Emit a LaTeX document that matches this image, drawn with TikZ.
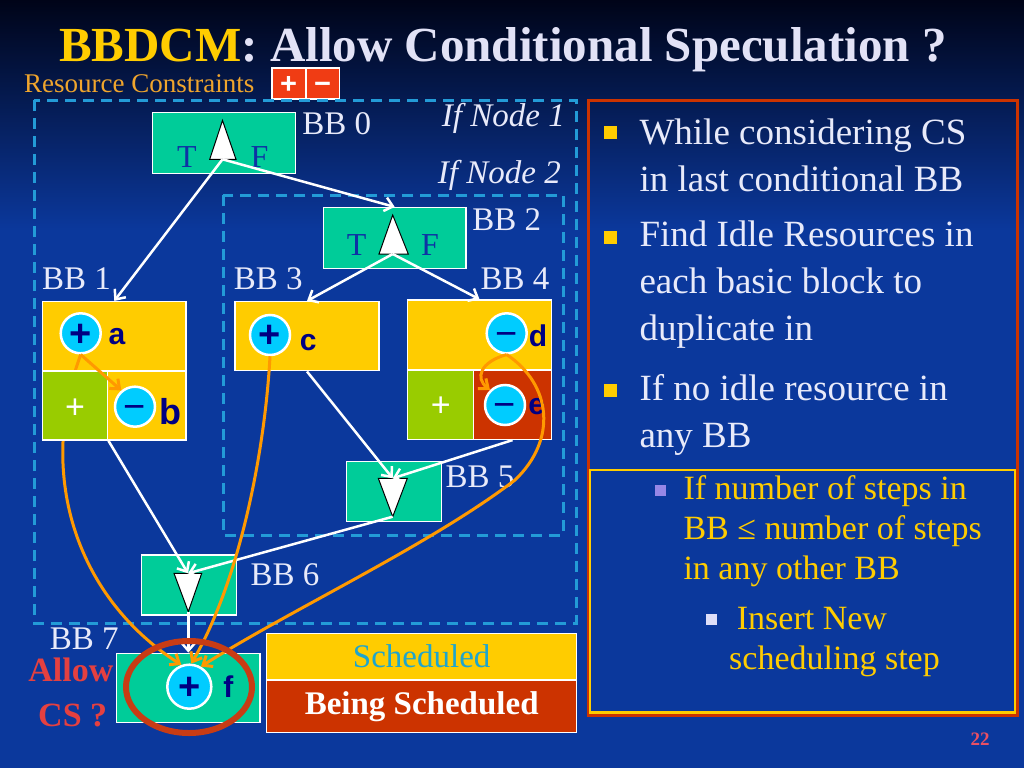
\documentclass[tikz,border=0pt]{standalone}
\usepackage{fontspec}
\setmainfont{Liberation Serif}
\setsansfont{Liberation Sans}
\usetikzlibrary{arrows.meta,shapes.geometric}

\definecolor{slidetop}{RGB}{0,4,24}
\definecolor{slidebody}{RGB}{11,56,156}
\definecolor{titleyellow}{RGB}{255,204,0}
\definecolor{titlelav}{RGB}{226,226,246}
\definecolor{rcorange}{RGB}{240,165,45}
\definecolor{rcred}{RGB}{240,60,20}
\definecolor{dashblue}{RGB}{35,155,215}
\definecolor{bbgreen}{RGB}{0,204,153}
\definecolor{schedyellow}{RGB}{255,204,0}
\definecolor{idlegreen}{RGB}{153,204,0}
\definecolor{busyred}{RGB}{204,51,0}
\definecolor{opcyan}{RGB}{0,204,255}
\definecolor{labnavy}{RGB}{0,0,130}
\definecolor{tfblue}{RGB}{14,50,165}
\definecolor{duporange}{RGB}{255,153,0}
\definecolor{txtwhite}{RGB}{232,234,250}
\definecolor{allowred}{RGB}{228,64,64}
\definecolor{schedcyan}{RGB}{30,165,205}
\definecolor{ringred}{RGB}{200,60,20}
\definecolor{sublav}{RGB}{150,135,230}
\definecolor{subsublav}{RGB}{222,222,248}
\definecolor{pagered}{RGB}{232,80,100}

\begin{document}
\begin{tikzpicture}[x=1pt, y=-1pt,
  bbbox/.style={draw=white, line width=1.5pt, fill=bbgreen, inner sep=0pt},
  cell/.style={draw=white, line width=1.5pt, inner sep=0pt},
  opnode/.style={circle, draw=white, line width=2.5pt, fill=opcyan, minimum size=40pt, inner sep=0pt, text=labnavy, text height=25.5pt, text depth=0pt, font=\sffamily\fontsize{38}{38}\selectfont},
  oplabel/.style={text=labnavy, inner sep=0pt, font=\sffamily\bfseries\fontsize{30}{30}\selectfont},
  idleop/.style={text=white, inner sep=0pt, text height=23pt, text depth=0pt, font=\sffamily\fontsize{34}{34}\selectfont},
  tf/.style={text=tfblue, inner sep=0pt, font=\fontsize{32}{32}\selectfont},
  bblabel/.style={text=txtwhite, inner sep=0pt, font=\fontsize{33}{33}\selectfont},
  condtri/.style={draw=black, fill=white, line width=1pt},
  flow/.style={draw=white, line width=2.5pt, -{Straight Barb[length=8pt,width=14pt]}},
  dup/.style={draw=duporange, line width=3pt, -{Straight Barb[length=8pt,width=13pt]}},
  ifbox/.style={draw=dashblue, line width=3pt, dash pattern=on 11pt off 7pt},
  rcbox/.style={cell, fill=rcred, minimum width=33.5pt, minimum height=31pt, text=white, text height=19.5pt, text depth=0pt, font=\sffamily\bfseries\fontsize{29}{29}\selectfont},
  bulsq/.style={fill=schedyellow, minimum size=13pt, inner sep=0pt},
  bullet/.style={text=txtwhite, anchor=west, align=left, inner sep=0pt, font=\fontsize{37}{47}\selectfont},
  subbullet/.style={text=schedyellow, anchor=west, align=left, inner sep=0pt, font=\fontsize{34}{40}\selectfont},
]
\useasboundingbox (0,0) rectangle (1024,768);

% slide
\fill[slidebody] (0,0) rectangle (1024,768);
\shade[top color=slidetop, bottom color=slidebody] (0,0) rectangle (1024,230);

\node[anchor=base west, inner sep=0pt, text depth=0pt, font=\bfseries\fontsize{49}{49}\selectfont] (title) at (59,62)
  {\textcolor{titleyellow}{BBDCM}\textcolor{titlelav}{: Allow Conditional Speculation ?}};
\node[anchor=base west, inner sep=0pt, text=rcorange, font=\fontsize{27}{27}\selectfont] (rc) at (24,92) {Resource Constraints};
\node[rcbox] (rcplus) at (288.5,83.7) {+};
\node[rcbox] (rcminus) at (322.5,83.7) {−};

% if regions
\draw[ifbox] (34.4,100) rectangle (576,623.3);
\draw[ifbox] (223.3,195) rectangle (563.3,535);
\node[anchor=east, inner sep=0pt, text=txtwhite, font=\itshape\fontsize{33}{33}\selectfont] (if1) at (565,118) {If Node 1};
\node[anchor=east, inner sep=0pt, text=txtwhite, font=\itshape\fontsize{33}{33}\selectfont] (if2) at (561,175) {If Node 2};

% BB 7
\node[bbbox, minimum width=143.3pt, minimum height=69.4pt] (bb7) at (188.3,688) {};
\node[opnode, minimum size=44pt] (f) at (189.3,686.7) {\bfseries +};
\node[oplabel] (lf) at (228.3,686.7) {f};

% BB 0 and BB 2
\node[bbbox, minimum width=143pt, minimum height=60.6pt] (bb0) at (223.9,143) {};
\node[tf] (bb0t) at (186.8,157) {T};
\node[tf] (bb0f) at (259.5,157) {F};
\draw[condtri] (209.7,159.3) -- (222.5,120.5) -- (236,159.3) -- cycle;
\coordinate (t0) at (222.5,159.3);

\node[bbbox, minimum width=142.7pt, minimum height=60.6pt] (bb2) at (394.7,238) {};
\node[tf] (bb2t) at (356.7,245) {T};
\node[tf] (bb2f) at (430,245) {F};
\draw[condtri] (379,254) -- (392.7,215) -- (408.3,254) -- cycle;
\coordinate (t2) at (392.7,254);

% BB 1
\node[cell, fill=schedyellow, minimum width=143.3pt, minimum height=69.3pt] (bb1a) at (114.3,336.3) {};
\node[opnode] (a) at (80.7,333.3) {\bfseries +};
\node[oplabel] (la) at (117,336.7) {a};
\draw[dup] (a.south) .. controls (35,480) and (80,600) .. (f.110);
\node[cell, fill=idlegreen, minimum width=65pt, minimum height=69pt] (bb1g) at (75.2,405.5) {};
\node[cell, fill=schedyellow, minimum width=78.3pt, minimum height=69pt] (bb1b) at (146.8,405.5) {};
\node[idleop] (p1) at (75,406.7) {+};
\node[opnode] (b) at (135,406.7) {−};
\node[oplabel, font=\sffamily\bfseries\fontsize{36}{36}\selectfont] (lb) at (170,411.7) {b};

% BB 3
\node[cell, fill=schedyellow, minimum width=144pt, minimum height=69pt] (bb3) at (307,336.2) {};
\node[opnode] (c) at (270,335) {\bfseries +};
\node[oplabel] (lc) at (308.3,343) {c};

% BB 4
\node[cell, fill=schedyellow, minimum width=144.4pt, minimum height=70pt] (bb4a) at (479.5,335) {};
\node[cell, fill=idlegreen, minimum width=66pt, minimum height=69.3pt] (bb4g) at (440.3,404.7) {};
\node[cell, fill=busyred, minimum width=78.4pt, minimum height=69.3pt] (bb4r) at (512.5,404.7) {};
\node[opnode] (d) at (506.7,333.3) {−};
\node[oplabel] (ld) at (538,336) {d};
\node[idleop] (p4) at (440.7,405) {+};
\node[opnode] (e) at (505,405) {−};
\node[oplabel] (le) at (536.7,407) {e};

% BB 5 and BB 6
\node[bbbox, minimum width=95pt, minimum height=60pt] (bb5) at (394.2,491.7) {};
\draw[condtri] (378.3,478.3) -- (407.3,478.3) -- (392.7,516.7) -- cycle;
\coordinate (t5in) at (392.7,478.3);
\coordinate (t5out) at (392.7,516.7);

\node[bbbox, minimum width=95pt, minimum height=60pt] (bb6) at (189.2,585) {};
\draw[condtri] (174,573.3) -- (201.7,573.3) -- (188.3,611.7) -- cycle;
\coordinate (t6in) at (188,573.3);
\coordinate (t6out) at (188.3,611.7);

\node[bblabel] (l0) at (336.8,123.3) {BB 0};
\node[bblabel] (l1) at (76.5,278.3) {BB 1};
\node[bblabel] (l2) at (506.7,220) {BB 2};
\node[bblabel] (l3) at (268.3,278.3) {BB 3};
\node[bblabel] (l4) at (515,278.3) {BB 4};
\node[bblabel] (l5) at (480,476.7) {BB 5};
\node[bblabel] (l6) at (285,575) {BB 6};
\node[bblabel] (l7) at (84.2,638.3) {BB 7};

% control flow
\draw[flow] (t0) -- (bb1a.north);
\draw[flow] (t0) -- (bb2.north);
\draw[flow] (t2) -- (bb3.north);
\draw[flow] (t2) -- (bb4a.north);
\draw[flow] (bb3.south) -- (t5in);
\draw[flow] (bb4r.south) -- (t5in);
\draw[flow] (bb1g.south east) -- (t6in);
\draw[flow] (t5out) -- (t6in);
\draw[flow] (t6out) -- (bb7.north);

% duplication
\draw[dup] (a.south) -- (b.130);
\draw[dup] (d.south) .. controls (480,362) and (475,378) .. (e.135);
\draw[dup] (c.south) .. controls (265,450) and (240,580) .. (f.85);
\draw[dup] (d.south) .. controls (552,385) and (557,440) .. (515,480) .. controls (430,545) and (290,610) .. (f.60);

\node[ellipse, draw=ringred, line width=6pt, minimum width=126pt, minimum height=92pt] (ring) at (189,687) {};
\node[text=allowred, inner sep=0pt, font=\bfseries\fontsize{34}{34}\selectfont] (allow) at (70.8,670) {Allow};
\node[text=allowred, inner sep=0pt, font=\bfseries\fontsize{34}{34}\selectfont] (csq) at (72.7,715) {CS ?};

% legend
\node[cell, fill=schedyellow, minimum width=310pt, minimum height=46.7pt, text=schedcyan, font=\fontsize{33}{33}\selectfont] (sched) at (421.7,656.7) {Scheduled};
\node[cell, fill=busyred, minimum width=310pt, minimum height=52.7pt, text=white, font=\bfseries\fontsize{33}{33}\selectfont] (being) at (421.7,706.3) {Being Scheduled};

% right panel
\draw[busyred, line width=3pt] (588,100) rectangle (1017,715);
\draw[schedyellow, line width=2.5pt] (590,470) rectangle (1015,712.5);

\node[bulsq] (q1) at (610,132) {};
\node[bullet] (w1) at (639.3,155.3) {While considering CS\\in last conditional BB};
\node[bulsq] (q2) at (610,237) {};
\node[bullet] (w2) at (639.3,284.5) {Find Idle Resources in\\each basic block to\\duplicate in};
\node[bulsq] (q3) at (610,390.5) {};
\node[bullet] (w3) at (639.3,415) {If no idle resource in\\any BB};

\node[bulsq, fill=sublav, minimum size=11pt] (s1) at (660,490) {};
\node[subbullet] (v1) at (683.3,531) {If number of steps in\\BB ≤ number of steps\\in any other BB};
\node[bulsq, fill=subsublav, minimum size=11pt] (s2) at (711.7,619.6) {};
\node[subbullet] (v2) at (729,642) {\hspace*{7.7pt}Insert New\\scheduling step};

\node[text=pagered, inner sep=0pt, font=\bfseries\fontsize{19}{19}\selectfont] (pg) at (980,739.3) {22};

\end{tikzpicture}
\end{document}
